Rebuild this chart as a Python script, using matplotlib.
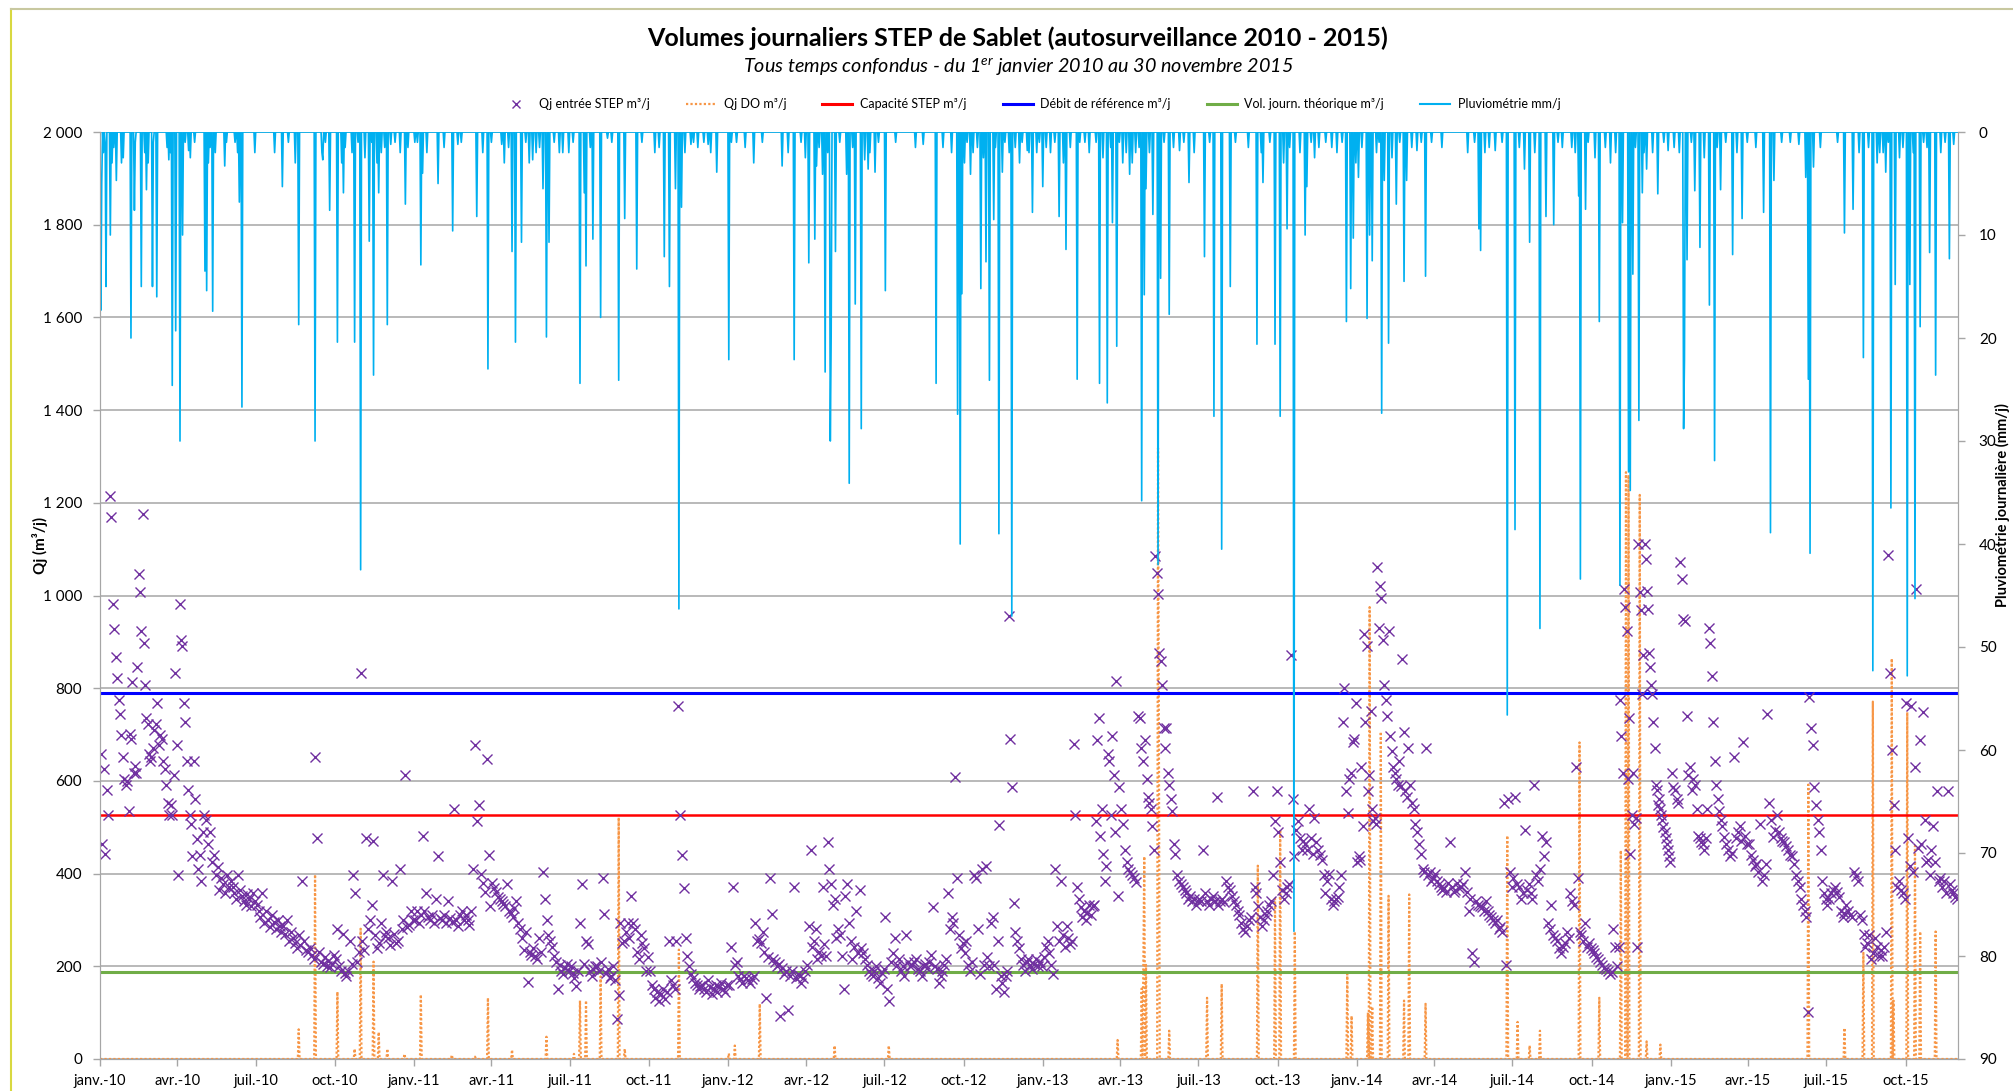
import numpy as np
import pandas as pd
import matplotlib
matplotlib.use("Agg")
import matplotlib.pyplot as plt
from matplotlib.lines import Line2D

plt.rcParams['font.family'] = ['Lato', 'DejaVu Sans']
plt.rcParams['mathtext.fontset'] = 'custom'
plt.rcParams['mathtext.it'] = 'Lato:italic'
plt.rcParams['mathtext.rm'] = 'Lato:italic'

# --- periode : 1er janvier 2010 -> 30 novembre 2015 (jours numerotes depuis le 01/01/2010)
debut = pd.Timestamp('2010-01-01')
n_jours = 2160

# seuils (m3/j)
capacite = 526
debit_ref = 790
vol_theorique = 187

# Qj entree STEP, releves par mois (chaque liste = un mois, dans l'ordre)
qj_2010 = [
    [657, 463, 625, 443, 580, 527, 1214, 1169, 981, 927, 868, 822, 774, 744, 699, 651, 605, 592],
    [599, 534, 702, 690, 813, 618, 632, 618, 845, 1046, 1007, 923, 1175, 897, 806, 735, 722, 657, 644],
    [651, 670, 709, 722, 767, 677, 700, 690, 644, 625, 592, 553, 527, 547, 527, 612, 832, 677],
    [398, 981, 904, 890, 767, 728, 644, 580, 527, 508, 437, 644, 560, 475, 411, 440, 385, 489],
    [527, 515, 463, 489, 424, 440, 398, 415, 365, 391, 378, 359, 398, 372],
    [385, 372, 359, 346, 398, 365, 352, 340, 333, 355, 346, 330, 359, 340],
    [333, 320, 307, 359, 294, 320, 300, 285, 310, 295, 281, 300, 288, 275],
    [288, 270, 300, 255, 275, 260, 250, 240, 268, 245, 385, 255, 235, 230],
    [240, 225, 215, 651, 476, 230, 210, 205, 220, 200, 212, 198, 205, 225],
    [215, 280, 200, 190, 270, 185, 178, 190, 255, 205, 398, 359, 210, 230, 832],
    [255, 235, 476, 280, 300, 333, 470, 268, 240, 250, 294, 398, 265, 275],
    [262, 245, 385, 270, 250, 255, 411, 280, 300, 612, 285, 290, 320, 300]]

qj_2011 = [
    [300, 320, 294, 310, 482, 320, 359, 306, 300, 310, 294, 346, 437, 305],
    [300, 310, 294, 340, 305, 295, 540, 300, 288, 310, 320, 300],
    [310, 300, 290, 320, 411, 677, 514, 547, 400, 380, 360, 647, 440, 330],
    [380, 370, 360, 350, 345, 340, 335, 330, 378, 320, 315, 307, 325, 340],
    [294, 280, 262, 236, 275, 167, 230, 225, 240, 223, 215, 260, 230, 404],
    [346, 300, 268, 255, 242, 223, 210, 152, 203, 190, 184, 197, 205, 190],
    [200, 185, 175, 158, 190, 294, 378, 205, 255, 249, 190, 180, 195, 200],
    [200, 190, 210, 391, 313, 185, 195, 175, 180, 200, 170, 87, 139, 294, 250],
    [255, 275, 294, 262, 352, 294, 280, 230, 216, 268, 250, 240, 190, 220],
    [190, 160, 152, 132, 145, 125, 140, 150, 130, 145, 255, 170, 160, 150],
    [255, 761, 527, 440, 369, 262, 223, 200, 184, 175, 165, 160, 152, 158],
    [160, 150, 145, 170, 155, 140, 150, 160, 145, 155, 165, 150, 145, 160]]

qj_2012 = [
    [160, 242, 372, 203, 210, 178, 172, 165, 178, 175, 171, 165, 172, 178],
    [294, 255, 258, 250, 275, 230, 132, 220, 391, 313, 216, 210, 200, 205],
    [93, 197, 184, 190, 106, 180, 190, 372, 175, 184, 180, 165, 175, 190],
    [203, 288, 450, 242, 255, 281, 216, 230, 223, 372, 249, 223, 469, 411, 378],
    [333, 346, 262, 281, 268, 223, 152, 352, 378, 294, 255, 216, 242, 320, 229],
    [365, 240, 229, 216, 203, 190, 184, 178, 190, 200, 175, 165, 185, 195],
    [307, 152, 126, 210, 229, 262, 203, 216, 190, 200, 178, 268, 210, 200],
    [203, 210, 216, 195, 190, 180, 200, 205, 197, 210, 225, 327, 200, 195],
    [165, 178, 190, 203, 216, 359, 281, 307, 294, 608, 391, 268, 240, 250],
    [229, 255, 203, 190, 210, 398, 391, 281, 184, 411, 203, 417, 220, 200],
    [294, 307, 203, 152, 255, 504, 180, 165, 145, 178, 190, 955, 690, 586, 336, 275],
    [255, 240, 216, 203, 190, 210, 216, 203, 195, 205, 215, 200, 210, 200]]

qj_2013 = [
    [220, 242, 255, 229, 203, 184, 411, 288, 255, 385, 268, 242, 288, 260],
    [249, 255, 680, 527, 372, 346, 327, 307, 320, 300, 315, 333, 310, 330],
    [333, 514, 689, 735, 482, 540, 443, 385, 417, 657, 644, 527, 696, 612, 489, 815, 352, 586],
    [540, 508, 450, 424, 411, 404, 398, 391, 382, 741, 735, 670, 644, 689],
    [605, 566, 553, 540, 502, 450, 1085, 1048, 1003, 877, 858, 806, 715, 670, 715, 618, 592, 560, 534],
    [463, 443, 398, 385, 378, 372, 365, 359, 346, 352, 340, 346, 333, 340],
    [346, 340, 450, 359, 340, 333, 346, 352, 340, 566, 333, 340, 346, 338],
    [385, 372, 365, 352, 340, 333, 320, 310, 294, 281, 275, 288, 300, 307],
    [579, 372, 359, 330, 307, 288, 300, 310, 320, 333, 340, 398, 514, 579],
    [489, 424, 365, 346, 359, 372, 378, 871, 560, 437, 495, 514, 476, 450, 470],
    [463, 450, 540, 476, 443, 521, 469, 450, 440, 430, 398, 359, 385, 400],
    [346, 333, 340, 346, 350, 372, 398, 726, 800, 579, 530, 605, 618, 683, 690, 767]]

qj_2014 = [
    [424, 437, 430, 631, 502, 916, 728, 890, 579, 612, 750, 540, 514, 520, 508, 1061, 929, 1020, 994, 903],
    [806, 774, 741, 923, 696, 664, 631, 618, 605, 592, 644, 590, 864, 706, 579, 566],
    [670, 592, 553, 540, 508, 489, 463, 443, 411, 404, 670, 398, 404, 385, 391],
    [400, 385, 378, 372, 365, 370, 360, 380, 469, 372, 360, 365, 380, 370],
    [372, 378, 404, 360, 320, 346, 229, 210, 340, 333, 330, 327, 320, 340],
    [320, 310, 307, 300, 294, 300, 281, 285, 275, 553, 203, 560, 404, 372],
    [391, 566, 378, 372, 346, 359, 495, 365, 378, 359, 346, 592, 398, 385],
    [411, 482, 437, 469, 294, 281, 333, 268, 262, 255, 240, 229, 242, 250],
    [275, 262, 359, 340, 333, 631, 391, 275, 268, 255, 294, 242, 250, 240],
    [236, 229, 220, 216, 210, 203, 197, 195, 190, 184, 188, 281, 242, 200],
    [242, 774, 696, 618, 1013, 975, 923, 605, 735, 443, 527, 618, 508, 520, 242, 1111, 1007, 968, 787, 871],
    [1111, 1078, 1010, 971, 877, 845, 806, 787, 728, 670, 592, 580, 547, 560, 540, 527, 515, 500, 489,
     476, 463, 450, 437, 424]]

qj_2015 = [
    [618, 586, 580, 560, 553, 1072, 1036, 949, 945, 741, 612, 631, 580, 605, 592, 540],
    [482, 476, 469, 463, 450, 476, 540, 929, 897, 826, 728, 644, 592, 560, 534, 515],
    [502, 480, 463, 450, 437, 445, 651, 476, 490, 502, 470, 683, 482, 463],
    [463, 440, 430, 417, 420, 404, 508, 385, 398, 420, 745, 553, 515, 480],
    [495, 527, 489, 476, 470, 469, 460, 450, 440, 437, 420, 398, 385, 372],
    [346, 333, 320, 307, 102, 780, 715, 677, 586, 547, 515, 489, 450, 385, 359, 346],
    [333, 346, 359, 365, 372, 360, 350, 320, 307, 315, 333, 320, 310, 307],
    [404, 395, 385, 310, 300, 270, 242, 250, 268, 216, 229, 262, 242, 223],
    [236, 223, 242, 275, 1087, 832, 667, 547, 450, 372, 385, 365, 359, 346],
    [767, 476, 417, 761, 404, 631, 1013, 456, 689, 463, 748, 515, 424, 430, 398, 450],
    [502, 424, 579, 385, 390, 372, 385, 359, 579, 378, 365, 359, 350, 346]]

qj_annees = {2010: qj_2010, 2011: qj_2011, 2012: qj_2012, 2013: qj_2013, 2014: qj_2014, 2015: qj_2015}

# Qj DO (m3/j) : jours de deversement (les autres jours = 0)
do_jour = [231, 250, 276, 296, 303, 318, 324, 334, 354, 373, 409, 436, 451, 479, 519, 551, 558, 565, 582, 603,
           610, 673, 731, 738, 767, 854, 917,
           1183, 1211, 1213, 1214, 1216, 1230, 1231, 1243, 1287, 1304, 1346, 1366, 1372, 1389,
           1450, 1455, 1474, 1476, 1479, 1489, 1498, 1516, 1522, 1541, 1636, 1648, 1662, 1674, 1720, 1743,
           1768, 1774, 1777, 1790,
           1798, 1814, 1986, 2028, 2050, 2061, 2083, 2085, 2101, 2110, 2116, 2134]
do_val = [64, 398, 145, 22, 281, 210, 58, 22, 11, 139, 9, 5, 132, 20, 48, 11, 126, 126, 178, 521,
          22, 236, 12, 29, 119, 29, 29,
          41, 152, 216, 437, 203, 1318, 700, 61, 132, 162, 417, 346, 495, 275,
          184, 93, 100, 975, 113, 706, 352, 126, 355, 119, 482, 80, 29, 61, 683, 132,
          450, 1266, 1260, 1217,
          38, 31, 592, 67, 229, 771, 864, 126, 748, 460, 275, 275]

# Pluviometrie (mm/j) : jours de pluie
pluie_jour = [1, 2, 7, 12, 19, 25, 36, 40, 48, 54, 61, 66, 80, 84, 88, 93, 96, 103, 122, 124,
              131, 145, 162, 165, 180, 203, 212, 227, 231, 250, 259, 267, 276, 283, 296, 303, 313, 318, 324, 334,
              338, 355,
              366, 373, 375, 393, 410, 416, 438, 451, 467, 479, 483, 490, 499, 503, 515, 519, 522, 534, 538, 558,
              563, 565, 573, 582, 590, 603, 610, 624, 656, 662, 669, 673, 676, 687, 702, 707, 717,
              731, 734, 760, 793, 807, 824, 831, 833, 840, 843, 849, 850, 855, 868, 871, 878, 885, 889, 893, 901,
              913, 948, 957, 972, 997, 1000, 1002, 1012, 1024, 1030, 1034, 1039, 1045, 1049, 1060, 1069, 1078,
              1084, 1089, 1096, 1115, 1123, 1136, 1139, 1162, 1171, 1177, 1182, 1189, 1197, 1204, 1211, 1214,
              1216, 1224, 1230, 1233, 1243, 1255, 1266, 1284, 1295, 1304, 1314, 1345, 1352, 1366, 1372, 1380,
              1388, 1401, 1403, 1417,
              1449, 1454, 1457, 1463, 1473, 1476, 1479, 1490, 1493, 1498, 1507, 1516, 1519, 1531, 1541, 1590,
              1603, 1605, 1615, 1622, 1636, 1645, 1656, 1662, 1674, 1681, 1690, 1711, 1719, 1721, 1727, 1743,
              1767, 1770, 1777, 1779, 1782, 1789, 1793, 1798,
              1811, 1823, 1841, 1842, 1845, 1854, 1860, 1871, 1877, 1884, 1898, 1909, 1934, 1942, 1946, 1975,
              1983, 1986, 1988, 1992, 2028, 2038, 2050, 2061, 2069, 2076, 2082, 2087, 2101, 2104, 2110, 2116,
              2127, 2134, 2150, 2155]
pluie_mm = [17.3, 5, 15, 10, 4.7, 3, 20, 7.6, 15, 5.6, 15, 16, 2.7, 24.6, 19.3, 30, 10, 1.8, 13.5, 15.4,
            17.4, 3.3, 6.8, 26.7, 2, 2, 5.3, 3, 18.7, 30, 2.7, 7.6, 20.4, 5.9, 20.4, 42.5, 10.6, 23.6, 5.9, 18.7,
            1.2, 7,
            1, 12.9, 4, 5, 9.6, 1.2, 8.2, 23, 1.2, 11.6, 20.4, 10.7, 3, 2.7, 5.5, 19.9, 10.7, 2, 2, 24.4,
            5.9, 13, 10.4, 18, 0.6, 24.1, 8.4, 13.3, 12.1, 15, 5.5, 46.3, 7.3, 1.2, 1, 1.2, 3.9,
            22.1, 1, 3, 3.3, 22.1, 12.7, 10.4, 3.3, 4.1, 23.3, 30, 19.9, 11.6, 4.1, 34.1, 16.7, 28.8, 2.7, 3.6, 3.9,
            15.4, 1.5, 1.2, 24.4, 27.4, 40, 15.7, 4.1, 15.2, 12.6, 24.1, 8.5, 39, 3.9, 47, 3, 1.8,
            7.8, 2, 5.3, 8.2, 11.4, 24, 1, 24.4, 26.3, 8.8, 20.8, 3, 4.1, 2, 35.8, 15.8,
            5.5, 8, 42, 14.2, 17.7, 1.8, 4.9, 12.1, 27.6, 40.5, 15, 20.6, 4.9, 20.6, 27.6, 9.4,
            77.6, 10, 5.3, 1.5,
            18.4, 15.2, 10.3, 4.4, 18.1, 10, 12.5, 27.3, 4.7, 20.5, 7, 14.5, 4.7, 1.8, 14, 2,
            9.4, 11.5, 1.5, 1.8, 56.6, 38.6, 3.6, 10.7, 48.2, 8.2, 9, 1.5, 6.2, 43.4, 7.5, 18.4,
            44, 8.8, 33, 34.8, 13.8, 28, 5.9, 3.6,
            6, 1.8, 28.8, 22.2, 12.4, 5.7, 11.2, 16.8, 31.9, 5.6, 11.9, 8.4, 7.8, 38.9, 4.7, 1.2,
            4.4, 24, 40.9, 3.4, 9.8, 7.5, 21.9, 52.3, 2, 3.9, 36.5, 14.8, 52.8, 14.8, 45.3, 18.9,
            11.7, 23.6, 12.3, 1.2]

# petites pluies (< 3 mm)
pluie_faible_jour = [4, 6, 14, 16, 27, 41, 52, 56, 62, 78, 82, 99, 105, 110, 126, 128, 134, 147, 157, 160,
                     219, 258, 262, 281, 285, 293, 300, 308, 316, 322, 327, 331, 343, 349, 358,
                     369, 380, 400, 420, 445, 455, 470, 475, 495, 507, 511, 528, 545, 550, 570, 595, 630, 645,
                     650, 680, 690, 695, 710,
                     740, 750, 770, 800, 815, 820, 836, 846, 860, 875, 895, 905, 925, 980, 990, 1005, 1008,
                     1015, 1020, 1027, 1041, 1052, 1057, 1064, 1072,
                     1080, 1092, 1100, 1105, 1110, 1120, 1128, 1145, 1150, 1158, 1166, 1175, 1185, 1193, 1200,
                     1208, 1220, 1237, 1248, 1260, 1272, 1290, 1320, 1335, 1350, 1360, 1376, 1383, 1395, 1408,
                     1412, 1425,
                     1432, 1438, 1444, 1460, 1467, 1484, 1487, 1502, 1511, 1525, 1536, 1548, 1560, 1598, 1610,
                     1630, 1650, 1668, 1695, 1700, 1715, 1730, 1738, 1750, 1756, 1762, 1785, 1795,
                     1805, 1818, 1830, 1836, 1850, 1865, 1880, 1890, 1903, 1915, 1925, 1955, 1965, 2000, 2020,
                     2045, 2056, 2066, 2073, 2079, 2092, 2096, 2108, 2120, 2124, 2140, 2145]
pluie_faible_mm = [2, 1, 3, 1.5, 2.5, 1, 2, 3, 1, 1.5, 2, 1, 2.5, 1, 3, 1.5, 2, 1, 1, 2,
                   1, 2, 1, 3, 1.5, 2, 1, 2.5, 1, 3, 2, 1.5, 1, 2, 1.5,
                   1, 2, 1.5, 1, 2, 1, 3, 1.5, 1, 2, 1.5, 1, 2, 1, 1.5, 1, 1, 2,
                   1.5, 2, 1, 1.5, 2,
                   1, 1.5, 1, 2, 1, 2.5, 1.5, 2, 1, 1.5, 2, 1, 1, 1.5, 2, 3, 1,
                   2, 1.5, 2.5, 1.5, 1, 2, 1.5, 1,
                   2, 1, 1.5, 2, 1, 3, 1.5, 1, 2, 1, 2.5, 1.5, 1, 2, 3,
                   1.5, 2, 1, 1.5, 1, 2, 1, 1, 1.5, 2, 1, 3, 1.5, 2, 1,
                   2.5, 1,
                   1.5, 2, 1, 3, 1.5, 2, 1, 2.5, 1, 1.5, 1, 1, 1.5, 1, 2,
                   1, 1.5, 2, 1, 1.5, 2, 1, 2.5, 1.5, 3, 2, 1.5, 2,
                   2, 1, 1.5, 2, 1, 2.5, 1.5, 1, 2, 1, 1.5, 1, 1, 1.5, 1,
                   2, 1.5, 3, 2, 1, 2.5, 1.5, 2, 1, 1.5, 2, 1]

mois_fr = ['janv.', 'avr.', 'juil.', 'oct.']

# ---------------------------------------------------------------
jours = pd.date_range(debut, periods=n_jours, freq='D')

do = np.zeros(n_jours)
do[do_jour] = do_val
pluie = np.zeros(n_jours)
pluie[pluie_faible_jour] = pluie_faible_mm
pluie[pluie_jour] = pluie_mm

# position des releves Qj : repartis sur le mois
qx, qy = [], []
for annee, mois in qj_annees.items():
    for m, vals in enumerate(mois, start=1):
        m0 = pd.Timestamp(year=annee, month=m, day=1)
        nd = m0.days_in_month
        for k, v in enumerate(vals):
            qx.append(m0 + pd.Timedelta(hours=24 * (k + 0.5) * nd / len(vals)))
            qy.append(v)

W, H = 2013, 1091
fig = plt.figure(figsize=(W / 100, H / 100), dpi=100)
ax = fig.add_axes([100 / W, 1 - 1059 / H, 1858 / W, 927 / H])

gris = '#a6a6a6'
ax.set_xlim(jours[0], jours[-1] + pd.Timedelta(days=1))
ax.set_ylim(0, 2000)
ax.set_yticks(range(0, 2001, 200))
ax.set_yticklabels([f"{v:,}".replace(",", " ") for v in range(0, 2001, 200)])
ax.yaxis.grid(True, color=gris, lw=1.1)
ax.set_axisbelow(True)

ax.plot(jours, do, color='#f79646', ls=(0, (1, 1)), lw=1.6)
ax.axhline(capacite, color='#ff0000', lw=1.8)
ax.axhline(debit_ref, color='#0000ff', lw=2.2)
ax.axhline(vol_theorique, color='#70ad47', lw=2.2)
ax.plot(qx, qy, ls='none', marker='x', color='#7030a0', ms=6.5, mew=1.0)

trimestres = pd.date_range('2010-01-01', '2015-10-01', freq='QS')
ax.set_xticks(trimestres)
ax.set_xticklabels([f"{mois_fr[(d.month - 1) // 3]}-{d.year % 100:02d}" for d in trimestres])

ax2 = ax.twinx()
ax2.set_ylim(90, 0)
ax2.set_yticks(range(0, 91, 10))
ax2.plot(jours, pluie, color='#00b0f0', lw=1.2)

for a in (ax, ax2):
    a.spines['top'].set_visible(False)
    for s in ('left', 'right', 'bottom'):
        a.spines[s].set_color(gris)
    a.tick_params(colors=gris, labelcolor='black', labelsize=11, length=5, width=1)
ax.tick_params(axis='y', pad=8)
ax2.tick_params(axis='y', pad=10)
ax.tick_params(axis='x', pad=6, labelsize=10.5)

# textes
fig.text(1018 / W, 1 - 38 / H, "Volumes journaliers STEP de Sablet (autosurveillance 2010 - 2015)",
         ha='center', va='center', fontsize=18, fontweight='bold')
fig.text(1018 / W, 1 - 67 / H, "Tous temps confondus - du 1$^{er}$ janvier 2010 au 30 novembre 2015",
         ha='center', va='center', fontsize=14.2, style='italic')
fig.text(40 / W, 1 - 545 / H, "Qj (m³/j)", rotation=90, ha='center', va='center',
         fontsize=11, fontweight='bold')
fig.text(2002 / W, 1 - 505 / H, "Pluviométrie journalière (mm/j)", rotation=90, ha='center', va='center',
         fontsize=10.5, fontweight='bold')

handles = [Line2D([], [], ls='none', marker='x', color='#7030a0', ms=6, mew=1.0),
           Line2D([], [], color='#f79646', ls=(0, (1, 1)), lw=1.6),
           Line2D([], [], color='#ff0000', lw=2.2),
           Line2D([], [], color='#0000ff', lw=2.2),
           Line2D([], [], color='#70ad47', lw=2.2),
           Line2D([], [], color='#00b0f0', lw=1.5)]
labels = ['Qj entrée STEP m³/j', 'Qj DO m³/j', 'Capacité STEP m³/j', 'Débit de référence m³/j',
          'Vol. journ. théorique m³/j', 'Pluviométrie mm/j']
fig.legend(handles, labels, loc='center', bbox_to_anchor=(1031 / W, 1 - 104 / H), ncol=6,
           frameon=False, fontsize=9, handlelength=2.4, columnspacing=2.9, handletextpad=0.6)

# cadre du graphique (bords visibles)
fig.add_artist(Line2D([11 / W, 11 / W], [0, 1 - 9 / H], transform=fig.transFigure, color='#d8d840', lw=1.5))
fig.add_artist(Line2D([11 / W, 1], [1 - 9 / H, 1 - 9 / H], transform=fig.transFigure, color='#c8c8a0', lw=1.5))

fig.savefig('out.png', dpi=100)
